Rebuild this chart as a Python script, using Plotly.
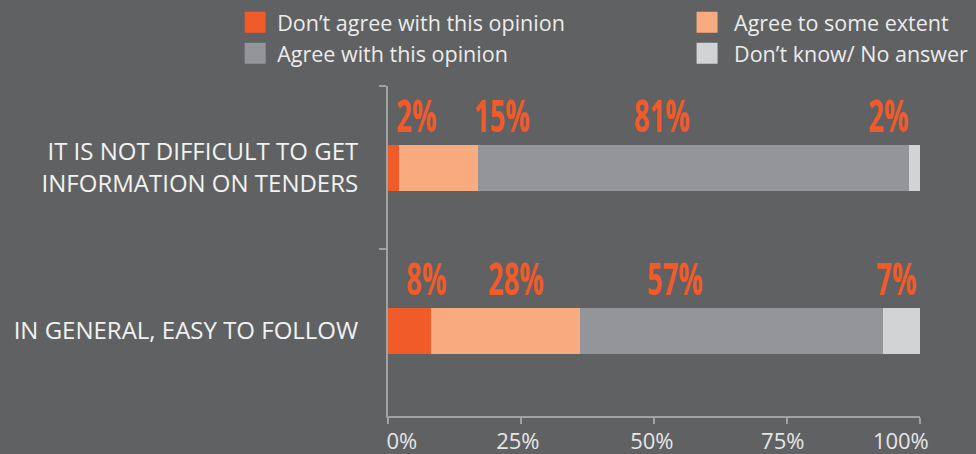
import plotly.graph_objects as go

# Survey statements (top to bottom) and answer shares in percent
statements = [
    "IT IS NOT DIFFICULT TO GET<br>INFORMATION ON TENDERS",
    "IN GENERAL, EASY TO FOLLOW",
]
answers = [
    "Don’t agree with this opinion",
    "Agree to some extent",
    "Agree with this opinion",
    "Don’t know/ No answer",
]
dont_agree = [2, 8]
agree_some = [15, 28]
agree = [81, 57]
dont_know = [2, 7]
series = [dont_agree, agree_some, agree, dont_know]

x_ticks = [0, 25, 50, 75, 100]
x_tick_labels = [f"{t}%" for t in x_ticks]

colors = ["#f15a29", "#f9ab80", "#939598", "#d1d3d4"]
label_color = "#f15a29"
bg = "#606163"
axis_color = "#a0a1a3"

# Where each percentage label sits along the axis (axis units)
label_x = [
    [5.3, 21.4, 51.5, 94.0],
    [7.2, 24.1, 54.0, 95.6],
]
# Axis label anchors: end labels are pulled inward
x_label_pos = [2.6, 24.4, 49.6, 74.2, 96.4]
# Legend column for each answer (two columns of two rows)
legend_ref = ["legend", "legend2", "legend", "legend2"]

fig = go.Figure()

for name, vals, col in zip(answers, series, colors):
    fig.add_trace(go.Bar(
        y=statements, x=vals, orientation="h", name=name,
        marker=dict(color=col, line=dict(width=0)),
        showlegend=False, hoverinfo="skip",
    ))

# Legend swatches, first column then second column
for k in [0, 2, 1, 3]:
    fig.add_trace(go.Scatter(
        x=[None], y=[None], mode="markers", name=answers[k],
        legend=legend_ref[k], xaxis="x2",
        marker=dict(symbol="square", size=16, color=colors[k],
                    line=dict(width=5, color=colors[k])),
    ))

# Percentage labels above each bar
for i, stmt in enumerate(statements):
    for j, vals in enumerate(series):
        fig.add_annotation(
            x=label_x[i][j], y=stmt, xref="x", yref="y",
            text=f"{vals[i]}%", showarrow=False, yshift=53,
            font=dict(family="Open Sans", size=44, color=label_color, weight="bold"),
        )

legend_style = dict(
    orientation="v", yanchor="top", xanchor="left", itemsizing="trace",
    traceorder="normal", font=dict(size=21.5, color="#ececec"),
    bgcolor="rgba(0,0,0,0)", tracegroupgap=0,
)

fig.update_layout(
    width=976, height=454,
    margin=dict(l=388, r=56, t=86, b=38, autoexpand=False),
    paper_bgcolor=bg, plot_bgcolor=bg,
    barmode="stack", bargap=0.72,
    font=dict(family="Open Sans", color="#ececec"),
    legend=dict(x=-0.291, y=1.255, itemwidth=34, **legend_style),
    legend2=dict(x=0.549, y=1.255, itemwidth=44, **legend_style),
    # Axis with the tick marks
    xaxis=dict(
        range=[0, 100], tickvals=x_ticks, showticklabels=False,
        showgrid=False, zeroline=False, showline=True, linecolor=axis_color,
        linewidth=2, ticks="outside", ticklen=6, tickwidth=2, tickcolor=axis_color,
    ),
    # Overlaid axis carrying the tick labels
    xaxis2=dict(
        overlaying="x", anchor="y", side="bottom", range=[0, 100],
        tickvals=x_label_pos, ticktext=x_tick_labels,
        showgrid=False, zeroline=False, showline=False,
        ticks="outside", ticklen=6, tickcolor="rgba(0,0,0,0)",
        tickfont=dict(size=22, color="#e6e6e6"),
    ),
    yaxis=dict(
        categoryorder="array", categoryarray=statements, autorange="reversed",
        showgrid=False, zeroline=False, showline=True, linecolor=axis_color,
        linewidth=2, ticks="outside", ticklen=7, tickwidth=2, tickcolor=axis_color,
        tickson="boundaries", ticklabelstandoff=23,
        tickfont=dict(size=24, color="#f2f2f2"),
    ),
)

# Condensed look for the bold percentage labels
condense_labels = """
var gd = document.getElementById('{plot_id}');
gd.querySelectorAll('text.annotation-text').forEach(function (t) {
    t.style.transformBox = 'fill-box';
    t.style.transformOrigin = 'center';
    t.style.transform = 'scaleX(0.62)';
});
"""

fig.write_html("out.html", post_script=condense_labels)
